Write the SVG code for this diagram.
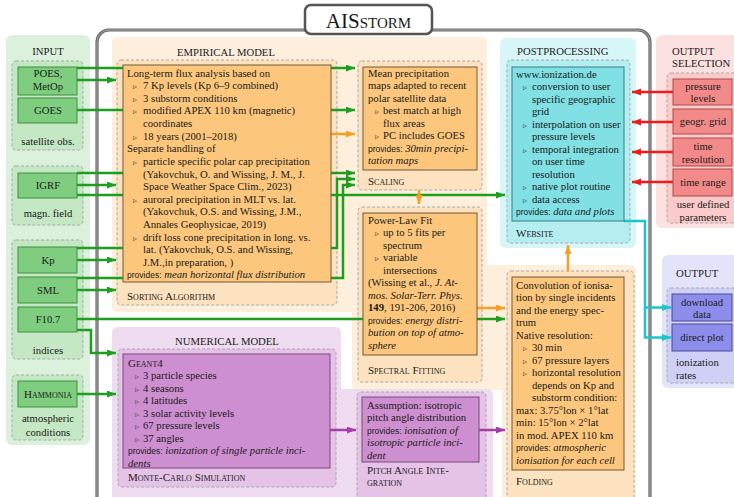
<svg xmlns="http://www.w3.org/2000/svg" width="734" height="497" viewBox="0 0 734 497">
<style>
.t{font-family:"Liberation Serif","Times New Roman",serif;font-size:10.7px;fill:#1a1a1a}
.c{text-anchor:middle}
.b{font-size:8px;fill:#444}
.p{font-family:"Liberation Sans",Arial,sans-serif;font-size:8.5px;font-style:normal}
.i{font-style:italic}
.sc{font-variant:small-caps;font-size:11px}
.dash{stroke:#a8a8a8;stroke-width:1;stroke-dasharray:3 2}
.gl{fill:none;stroke:#1e9e1e;stroke-width:2.5;marker-end:url(#ag)}
.ol{fill:none;stroke:#f5a020;stroke-width:2.5;marker-end:url(#ao)}
.pl{fill:none;stroke:#a53ca8;stroke-width:2.5;marker-end:url(#ap)}
.rl{fill:none;stroke:#ee1c1c;stroke-width:2.5;marker-end:url(#ar)}
.cl{fill:none;stroke:#1cc6c8;stroke-width:2.5;marker-end:url(#ac)}
.gbox{fill:#7fcd7f;stroke:#3f8f3f;stroke-width:1}
.obox{fill:#fcc77c;stroke:#6e5a42;stroke-width:1}
.cbox{fill:#80e0e3;stroke:#3a7f80;stroke-width:1}
.rbox{fill:#f28a8a;stroke:#b04848;stroke-width:1}
.ubox{fill:#8d8deb;stroke:#4a4a9a;stroke-width:1}
.mbox{fill:#cd8fd0;stroke:#7a4a7a;stroke-width:1}
</style>
<defs>
<marker id="ag" markerUnits="userSpaceOnUse" markerWidth="10" markerHeight="8" refX="9" refY="3.5" orient="auto"><path d="M0,0 L9,3.5 L0,7 Z" fill="#1e9e1e"/></marker>
<marker id="ao" markerUnits="userSpaceOnUse" markerWidth="10" markerHeight="8" refX="9" refY="3.5" orient="auto"><path d="M0,0 L9,3.5 L0,7 Z" fill="#f5a020"/></marker>
<marker id="ap" markerUnits="userSpaceOnUse" markerWidth="10" markerHeight="8" refX="9" refY="3.5" orient="auto"><path d="M0,0 L9,3.5 L0,7 Z" fill="#a53ca8"/></marker>
<marker id="ar" markerUnits="userSpaceOnUse" markerWidth="10" markerHeight="8" refX="9" refY="3.5" orient="auto"><path d="M0,0 L9,3.5 L0,7 Z" fill="#ee1c1c"/></marker>
<marker id="ac" markerUnits="userSpaceOnUse" markerWidth="10" markerHeight="8" refX="9" refY="3.5" orient="auto"><path d="M0,0 L9,3.5 L0,7 Z" fill="#1cc6c8"/></marker>
</defs>
<rect width="734" height="497" fill="#ffffff"/>

<g id="frame">
<rect x="97" y="30" width="553" height="490" rx="12" fill="none" stroke="#6a6a6a" stroke-width="3.2"/>
<rect x="97" y="30" width="553" height="490" rx="12" fill="none" stroke="#b5b5b5" stroke-width="0.8"/>
</g>
<g id="title">
<rect x="305" y="5" width="127" height="29" rx="6" fill="#ffffff" stroke="#555" stroke-width="2.5"/>
<text x="368.5" y="28" class="t c" style="font-size:21px">AIS<tspan style="font-size:15px">STORM</tspan></text>
</g>

<g id="input">
<rect x="6" y="35" width="84" height="410" rx="6" fill="#dcf1dc"/>
<text x="48" y="55" class="t c">INPUT</text>
<rect x="12" y="61" width="71" height="89" rx="4" fill="#c4e7c4" class="dash"/>
<rect x="12" y="166" width="71" height="59" rx="4" fill="#c4e7c4" class="dash"/>
<rect x="12" y="240" width="71" height="119" rx="4" fill="#c4e7c4" class="dash"/>
<rect x="12" y="375" width="71" height="65" rx="4" fill="#c4e7c4" class="dash"/>
<text x="48" y="144.5" class="t c">satellite obs.</text>
<text x="48" y="216.5" class="t c">magn. field</text>
<text x="48" y="353.5" class="t c">indices</text>
<text x="48" y="421.5" class="t c">atmospheric</text>
<text x="48" y="435.5" class="t c">conditions</text>
</g>

<g id="empirical-bg">
<path d="M118,37 H481 Q487,37 487,43 V265 H630 Q636,265 636,271 V510 H502 V390 H358 Q352,390 352,384 V312 H118 Q112,312 112,306 V43 Q112,37 118,37 Z" fill="#fdefdc"/>
<text x="226" y="56" class="t c">EMPIRICAL MODEL</text>
</g>
<g id="numerical-bg">
<path d="M118,327 H335 Q341,327 341,333 V389 H487 Q493,389 493,395 V510 H112 V333 Q112,327 118,327 Z" fill="#efdcf0"/>
<text x="227" y="345" class="t c">NUMERICAL MODEL</text>
</g>
<g id="post-bg">
<rect x="500" y="38" width="136" height="210" rx="6" fill="#d6f6f7"/>
<text x="517" y="55" class="t">POSTPROCESSING</text>
</g>
<g id="outsel">
<rect x="656" y="35" width="84" height="193" rx="6" fill="#fde1e1"/>
<text x="672" y="55" class="t">OUTPUT</text>
<text x="672" y="67" class="t">SELECTION</text>
<rect x="667" y="73" width="72" height="150" rx="4" fill="#fbcaca" class="dash"/>
<text x="703" y="207.5" class="t c">user defined</text>
<text x="703" y="220.5" class="t c">parameters</text>
</g>
<g id="output">
<rect x="662" y="255" width="78" height="133" rx="6" fill="#e3e3fb"/>
<text x="676" y="277" class="t">OUTPUT</text>
<rect x="667" y="288" width="72" height="95" rx="4" fill="#d0d0f6" class="dash"/>
<text x="676" y="365.5" class="t">ionization</text>
<text x="676" y="378.5" class="t">rates</text>
</g>

<rect x="117" y="60" width="220" height="245" rx="4" fill="#fde2bf" class="dash"/>
<rect x="358" y="61" width="124" height="129" rx="4" fill="#fde2bf" class="dash"/>
<rect x="358" y="207" width="124" height="175" rx="4" fill="#fde2bf" class="dash"/>
<rect x="507" y="60" width="123" height="183" rx="4" fill="#b5eef0" class="dash"/>
<rect x="507" y="271" width="127" height="240" rx="4" fill="#fde2bf" class="dash"/>
<rect x="118" y="349" width="218" height="138" rx="4" fill="#e4c3e6" class="dash"/>
<rect x="357" y="392" width="129" height="120" rx="4" fill="#e4c3e6" class="dash"/>

<g id="connectors">
<path class="gl" d="M77,68 H355"/>
<path class="gl" d="M77,80 H116"/>
<path class="gl" d="M77,110 H355"/>
<path class="gl" d="M77,173 H355"/>
<path class="gl" d="M77,185 H116"/>
<path class="gl" d="M77,195 H505"/>
<path class="gl" d="M77,248 H337 V179 H355"/>
<path class="gl" d="M77,260 H116"/>
<path class="gl" d="M77,278 H343 V185 H355"/>
<path class="gl" d="M77,290 H116"/>
<path class="gl" d="M77,319 H505"/>
<path class="gl" d="M77,330 H91 V353 H116"/>
<path class="gl" d="M77,394 H116"/>
<path class="ol" d="M331,134 H355"/>
<path class="ol" d="M419,190 V204"/>
<path class="ol" d="M477,308 H505"/>
<path class="ol" d="M568,271 V245"/>
<path class="pl" d="M330,430 H356"/>
<path class="pl" d="M479,430 H505"/>
<path class="rl" d="M673,92 H632"/>
<path class="rl" d="M673,122 H632"/>
<path class="rl" d="M673,152 H632"/>
<path class="rl" d="M673,182 H632"/>
<path class="cl" d="M624,221 H645 V337.5 H671"/>
<path class="cl" d="M645,307.5 H671"/>
</g>

<g id="poes"><rect x="18" y="67" width="59" height="28" class="gbox"/><text x="48" y="77" class="t c">POES,</text><text x="48" y="90" class="t c">MetOp</text></g>
<g id="goes"><rect x="18" y="98" width="59" height="25" class="gbox"/><text x="48" y="114" class="t c">GOES</text></g>
<g id="igrf"><rect x="18" y="173" width="59" height="25" class="gbox"/><text x="48" y="189" class="t c">IGRF</text></g>
<g id="kp"><rect x="18" y="247" width="59" height="26" class="gbox"/><text x="48" y="263.5" class="t c">Kp</text></g>
<g id="sml"><rect x="18" y="277" width="59" height="26" class="gbox"/><text x="48" y="293.5" class="t c">SML</text></g>
<g id="f107"><rect x="18" y="307" width="59" height="25" class="gbox"/><text x="48" y="323" class="t c">F10.7</text></g>
<g id="hammonia"><rect x="18" y="381" width="59" height="26" class="gbox"/><text x="48" y="397.5" class="t c sc">Hammonia</text></g>

<g id="sorting">
<rect x="123" y="65" width="208" height="217" class="obox"/>
<text class="t" x="127" y="76.5">Long-term flux analysis based on</text>
<text class="t" y="89"><tspan x="133" class="b">▹</tspan><tspan x="143">7 Kp levels (Kp 6–9 combined)</tspan></text>
<text class="t" y="101.5"><tspan x="133" class="b">▹</tspan><tspan x="143">3 substorm conditions</tspan></text>
<text class="t" y="114"><tspan x="133" class="b">▹</tspan><tspan x="143">modified APEX 110 km (magnetic)</tspan></text>
<text class="t" x="143" y="126.5">coordinates</text>
<text class="t" y="139.5"><tspan x="133" class="b">▹</tspan><tspan x="143">18 years (2001–2018)</tspan></text>
<text class="t" x="127" y="152">Separate handling of</text>
<text class="t" y="164.5"><tspan x="133" class="b">▹</tspan><tspan x="143">particle specific polar cap precipitation</tspan></text>
<text class="t" x="143" y="177.5">(Yakovchuk, O. and Wissing, J. M., J.</text>
<text class="t" x="143" y="190">Space Weather Space Clim., 2023)</text>
<text class="t" y="202.5"><tspan x="133" class="b">▹</tspan><tspan x="143">auroral precipitation in MLT vs. lat.</tspan></text>
<text class="t" x="143" y="215">(Yakovchuk, O.S. and Wissing, J.M.,</text>
<text class="t" x="143" y="227.5">Annales Geophysicae, 2019)</text>
<text class="t" y="240.5"><tspan x="133" class="b">▹</tspan><tspan x="143">drift loss cone precipitation in long. vs.</tspan></text>
<text class="t" x="143" y="253">lat. (Yakovchuk, O.S. and Wissing,</text>
<text class="t" x="143" y="265.5">J.M.,in preparation, )</text>
<text class="t" x="127" y="278"><tspan class="p">provides:</tspan> <tspan class="i">mean horizontal flux distribution</tspan></text>
<text class="t sc" x="127" y="300">Sorting Algorithm</text>
</g>

<g id="scaling">
<rect x="363" y="67" width="114" height="103" class="obox"/>
<text class="t" x="368" y="76.5">Mean precipitation</text>
<text class="t" x="368" y="89">maps adapted to recent</text>
<text class="t" x="368" y="101.5">polar satellite data</text>
<text class="t" y="114"><tspan x="375" class="b">▹</tspan><tspan x="383">best match at high</tspan></text>
<text class="t" x="383" y="126.5">flux areas</text>
<text class="t" y="139"><tspan x="375" class="b">▹</tspan><tspan x="383">PC includes GOES</tspan></text>
<text class="t" x="368" y="151.5"><tspan class="p">provides:</tspan> <tspan class="i">30min precipi-</tspan></text>
<text class="t i" x="368" y="164">tation maps</text>
<text class="t sc" x="368" y="185">Scaling</text>
</g>

<g id="spectral">
<rect x="363" y="213" width="114" height="142" class="obox"/>
<text class="t" x="368" y="223.5">Power-Law Fit</text>
<text class="t" y="236"><tspan x="375" class="b">▹</tspan><tspan x="383">up to 5 fits per</tspan></text>
<text class="t" x="383" y="248.5">spectrum</text>
<text class="t" y="261"><tspan x="375" class="b">▹</tspan><tspan x="383">variable</tspan></text>
<text class="t" x="383" y="273.5">intersections</text>
<text class="t" x="368" y="286">(Wissing et al., <tspan class="i">J. At-</tspan></text>
<text class="t i" x="368" y="298.5">mos. Solar-Terr. Phys.</text>
<text class="t" x="368" y="311"><tspan font-weight="bold">149</tspan>, 191-206, 2016)</text>
<text class="t" x="368" y="323.5"><tspan class="p">provides:</tspan> <tspan class="i">energy distri-</tspan></text>
<text class="t i" x="368" y="336">bution on top of atmo-</text>
<text class="t i" x="368" y="348.5">sphere</text>
<text class="t sc" x="368" y="374">Spectral Fitting</text>
</g>

<g id="website">
<rect x="512" y="67" width="112" height="154" class="cbox"/>
<text class="t" x="516" y="77.5">www.ionization.de</text>
<text class="t" y="90"><tspan x="523" class="b">▹</tspan><tspan x="532">conversion to user</tspan></text>
<text class="t" x="532" y="102.5">specific geographic</text>
<text class="t" x="532" y="115">grid</text>
<text class="t" y="127.5"><tspan x="523" class="b">▹</tspan><tspan x="532">interpolation on user</tspan></text>
<text class="t" x="532" y="140">pressure levels</text>
<text class="t" y="152.5"><tspan x="523" class="b">▹</tspan><tspan x="532">temporal integration</tspan></text>
<text class="t" x="532" y="165">on user time</text>
<text class="t" x="532" y="177.5">resolution</text>
<text class="t" y="190"><tspan x="523" class="b">▹</tspan><tspan x="532">native plot routine</tspan></text>
<text class="t" y="202.5"><tspan x="523" class="b">▹</tspan><tspan x="532">data access</tspan></text>
<text class="t" x="516" y="215"><tspan class="p">provides:</tspan> <tspan class="i">data and plots</tspan></text>
<text class="t sc" x="516" y="237">Website</text>
</g>

<g id="folding">
<rect x="512" y="277" width="112" height="193" class="obox"/>
<text class="t" x="516" y="288.5">Convolution of ionisa-</text>
<text class="t" x="516" y="301">tion by single incidents</text>
<text class="t" x="516" y="313.5">and the energy spec-</text>
<text class="t" x="516" y="326">trum</text>
<text class="t" x="516" y="338.5">Native resolution:</text>
<text class="t" y="351"><tspan x="523" class="b">▹</tspan><tspan x="532">30 min</tspan></text>
<text class="t" y="363.5"><tspan x="523" class="b">▹</tspan><tspan x="532">67 pressure layers</tspan></text>
<text class="t" y="376"><tspan x="523" class="b">▹</tspan><tspan x="532">horizontal resolution</tspan></text>
<text class="t" x="532" y="388.5">depends on Kp and</text>
<text class="t" x="532" y="401">substorm condition:</text>
<text class="t" x="516" y="413.5">max: 3.75°lon × 1°lat</text>
<text class="t" x="516" y="426">min: 15°lon × 2°lat</text>
<text class="t" x="516" y="438.5">in mod. APEX 110 km</text>
<text class="t" x="516" y="451"><tspan class="p">provides:</tspan> <tspan class="i">atmospheric</tspan></text>
<text class="t i" x="516" y="463.5">ionisation for each cell</text>
<text class="t sc" x="516" y="485">Folding</text>
</g>

<g id="montecarlo">
<rect x="123" y="354" width="207" height="114" class="mbox"/>
<text class="t sc" x="128" y="366.5">Geant4</text>
<text class="t" y="379"><tspan x="135" class="b">▹</tspan><tspan x="143">3 particle species</tspan></text>
<text class="t" y="391.5"><tspan x="135" class="b">▹</tspan><tspan x="143">4 seasons</tspan></text>
<text class="t" y="404"><tspan x="135" class="b">▹</tspan><tspan x="143">4 latitudes</tspan></text>
<text class="t" y="416.5"><tspan x="135" class="b">▹</tspan><tspan x="143">3 solar activity levels</tspan></text>
<text class="t" y="429"><tspan x="135" class="b">▹</tspan><tspan x="143">67 pressure levels</tspan></text>
<text class="t" y="441.5"><tspan x="135" class="b">▹</tspan><tspan x="143">37 angles</tspan></text>
<text class="t" x="128" y="454"><tspan class="p">provides:</tspan> <tspan class="i">ionization of single particle inci-</tspan></text>
<text class="t i" x="128" y="466.5">dents</text>
<text class="t sc" x="128" y="481">Monte-Carlo Simulation</text>
</g>

<g id="pitchangle">
<rect x="362" y="397" width="117" height="65" class="mbox"/>
<text class="t" x="367" y="408.5">Assumption: isotropic</text>
<text class="t" x="367" y="421">pitch angle distribution</text>
<text class="t" x="367" y="433.5"><tspan class="p">provides:</tspan> <tspan class="i">ionisation of</tspan></text>
<text class="t i" x="367" y="446">isotropic particle inci-</text>
<text class="t i" x="367" y="458.5">dent</text>
<text class="t sc" x="367" y="474">Pitch Angle Inte-</text>
<text class="t sc" x="367" y="486">gration</text>
</g>

<g id="pressure"><rect x="673" y="79" width="59" height="26" class="rbox"/><text x="703" y="89.5" class="t c">pressure</text><text x="703" y="101.5" class="t c">levels</text></g>
<g id="grid"><rect x="673" y="109" width="59" height="25" class="rbox"/><text x="703" y="125" class="t c">geogr.  grid</text></g>
<g id="timeres"><rect x="673" y="138" width="59" height="28" class="rbox"/><text x="703" y="150" class="t c">time</text><text x="703" y="162.5" class="t c">resolution</text></g>
<g id="timerange"><rect x="673" y="169" width="59" height="27" class="rbox"/><text x="703" y="186" class="t c">time range</text></g>

<g id="download"><rect x="672" y="294" width="60" height="27" class="ubox"/><text x="702" y="305.5" class="t c">download</text><text x="702" y="317.5" class="t c">data</text></g>
<g id="directplot"><rect x="672" y="324" width="60" height="27" class="ubox"/><text x="702" y="341" class="t c">direct plot</text></g>
</svg>
